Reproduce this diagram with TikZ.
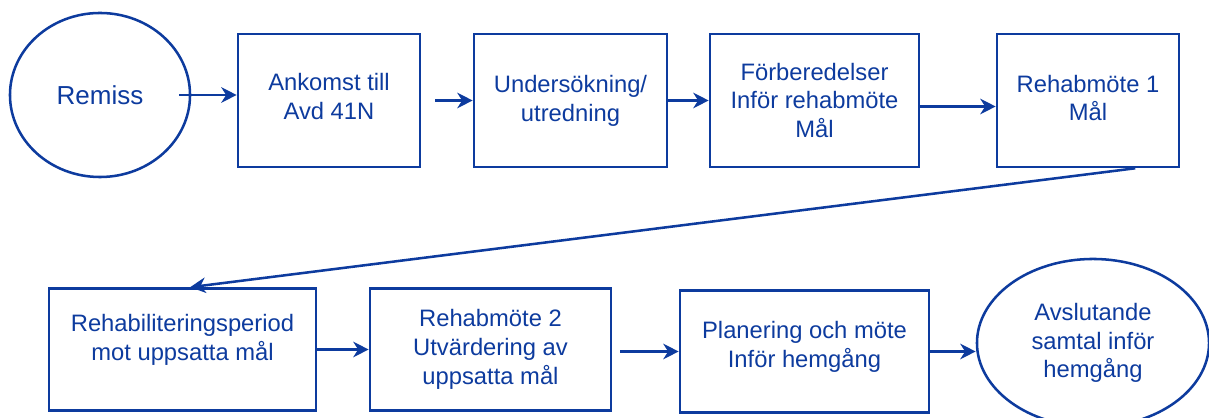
\documentclass[tikz,border=0pt]{standalone}
\usepackage{xcolor}
\usepackage{fontspec}
\setmainfont{Liberation Sans}
\usetikzlibrary{
		calc,
		arrows.meta,
		shapes.geometric,
		positioning
	}
\definecolor{flowblue}{HTML}{0D3B9E}
\tikzset{
		>={Stealth[length=11pt,width=11pt,inset=3.5pt]},
		stepbox/.style={draw=flowblue, line width=1.8pt, text=flowblue, align=center,
			inner sep=0pt, font=\fontsize{16.9pt}{20.5pt}\selectfont},
		endoval/.style={stepbox, ellipse},
		flow/.style={->, draw=flowblue, line width=1.8pt}
	}
\begin{document}
\begin{tikzpicture}[x=0.025cm, y=-0.025cm]
          \useasboundingbox (0,0) rectangle (1209,418);

          \node[endoval, minimum width=4.5cm, minimum height=4.1cm,
            font=\fontsize{18.5pt}{22pt}\selectfont] (remiss) at (100,95) {Remiss};
          \node[stepbox, minimum width=4.55cm, minimum height=3.325cm, text depth=6.4pt] (ankomst) at (329,100.5) {Ankomst till\\Avd 41N};
          \node[stepbox, minimum width=4.825cm, minimum height=3.325cm] (utred) at (570.5,100.5) {Undersökning/\\utredning};
          \node[stepbox, minimum width=5.225cm, minimum height=3.325cm] (forb) at (814.5,100.5) {Förberedelser\\Inför rehabmöte\\Mål};
          \node[stepbox, minimum width=4.55cm, minimum height=3.325cm, text depth=3.6pt] (rm1) at (1088,100.5) {Rehabmöte 1\\Mål};

          \node[stepbox, minimum width=6.675cm, minimum height=3.05cm, text depth=17.8pt] (period) at (182.5,349.5) {Rehabiliteringsperiod\\mot uppsatta mål};
          \node[stepbox, minimum width=6.025cm, minimum height=3.05cm] (rm2) at (490.5,349.5) {Rehabmöte 2\\Utvärdering av\\uppsatta mål};
          \node[stepbox, minimum width=6.225cm, minimum height=3.05cm, text depth=10pt] (plan) at (804.5,351.5) {Planering och möte\\Inför hemgång};
          \node[endoval, minimum width=5.8cm, minimum height=4.2cm] (avsl) at (1093,343) {Avslutande\\samtal inför\\hemgång};

          % top row
          \draw[flow] ([xshift=-0.3cm]remiss.east) -- (remiss.east -| ankomst.west);
          \draw[flow] ([xshift=0.35cm]ankomst.east) -- (ankomst.east -| utred.west);
          \draw[flow] (utred.east) -- (forb.west);
          \draw[flow] ([yshift=-0.15cm]forb.east) -- ([yshift=-0.15cm]forb.east -| rm1.west);

          % down to second row
          \draw[flow] ([xshift=1.18cm]rm1.south) -- ([xshift=0.19cm]period.north);

          % bottom row
          \draw[flow] (period.east) -- (period.east -| rm2.west);
          \draw[flow] ([xshift=0.2cm]rm2.east |- plan.west) -- (plan.west);
          \draw[flow] (plan.east) -- (plan.east -| avsl.west);

          \end{tikzpicture}
\end{document}
